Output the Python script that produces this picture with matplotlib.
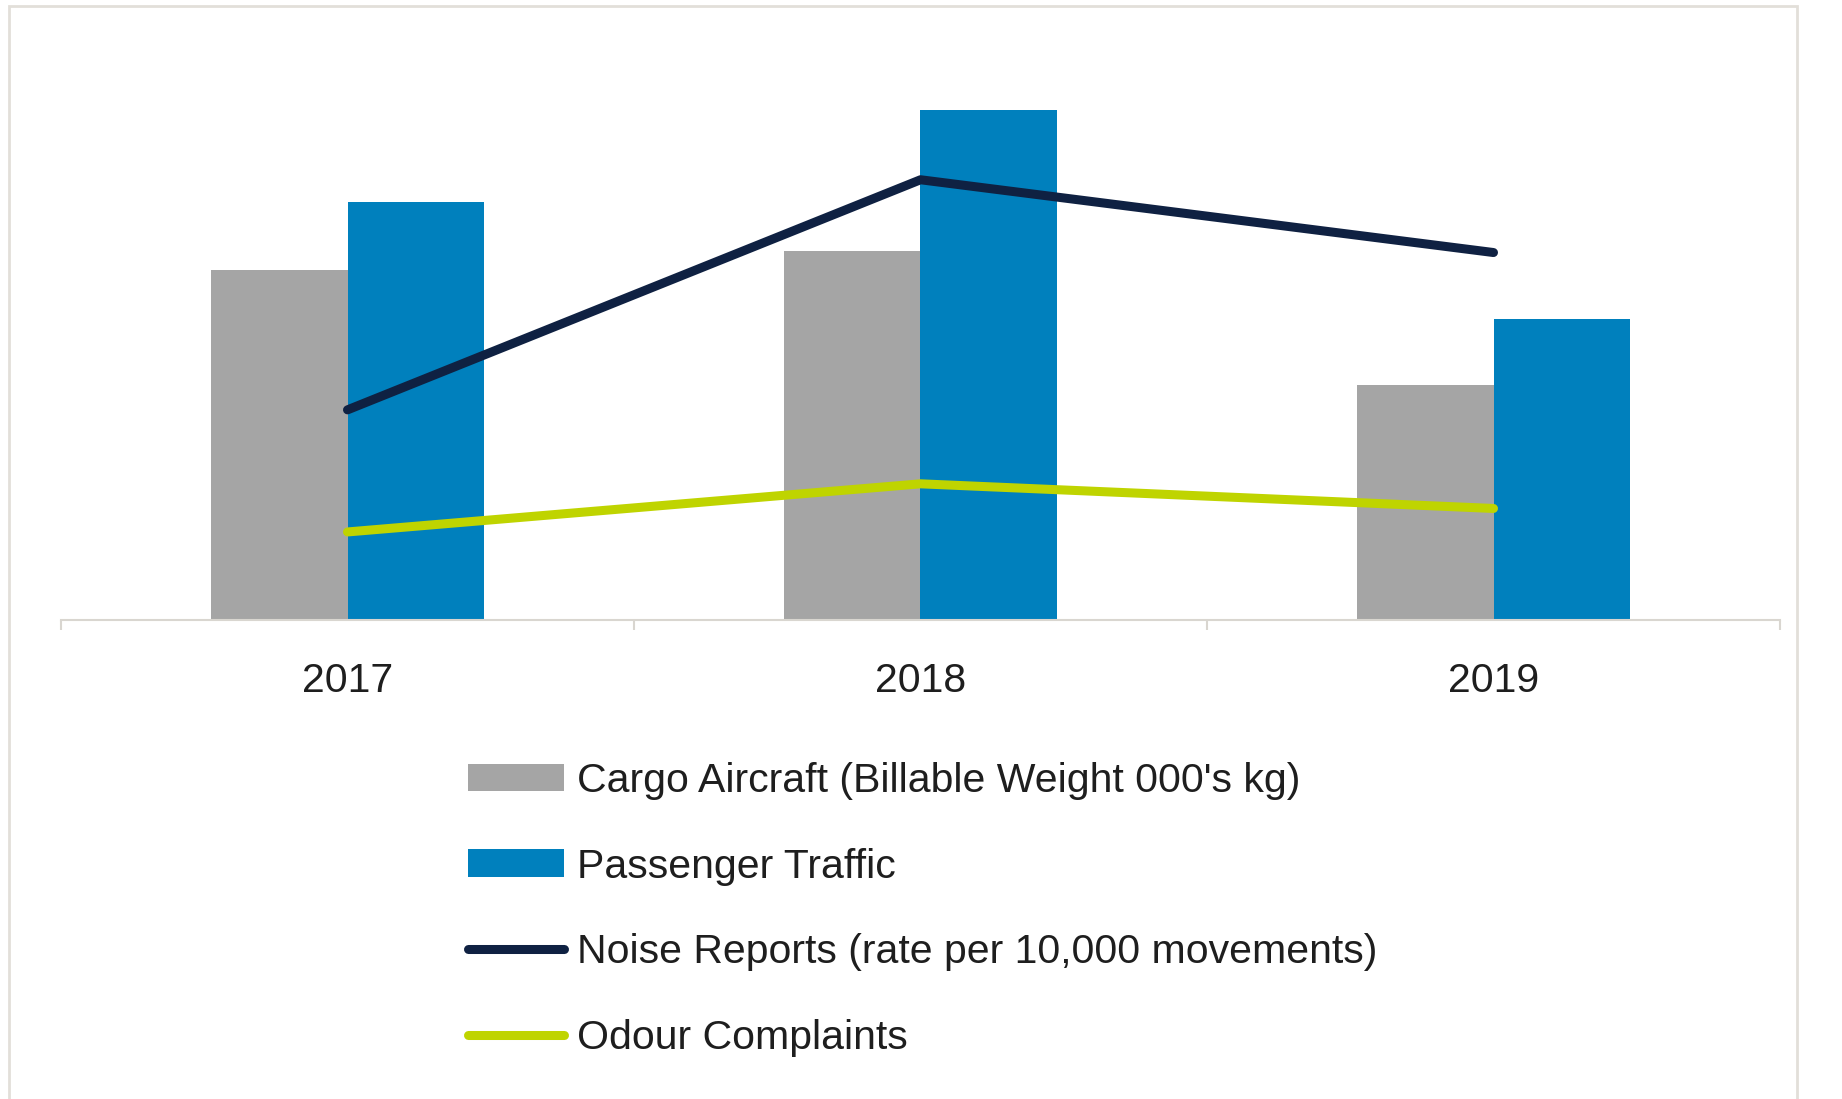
import matplotlib.pyplot as plt
import matplotlib.patches as mpatches
from matplotlib.lines import Line2D
import numpy as np

plt.rcParams['font.family'] = ['Liberation Sans', 'DejaVu Sans']

years = ['2017', '2018', '2019']
# no value axis on the chart, so these are relative heights
cargo = [298, 314, 200]
passenger = [356, 434, 256]
noise = [179, 375, 313]
odour = [75, 116, 95]

labels = ["Cargo Aircraft (Billable Weight 000's kg)", "Passenger Traffic",
          "Noise Reports (rate per 10,000 movements)", "Odour Complaints"]

c_cargo = '#a5a5a5'
c_pass = '#0080bd'
c_noise = '#0f2142'
c_odour = '#bfd400'
txt = '#1e1e1e'

fig = plt.figure(figsize=(18.42, 10.99), dpi=100)
ax = fig.add_axes([61/1842, 1 - 620/1099, 1719/1842, 587/1099])

x = np.arange(len(years))
w = 0.2377
ax.bar(x - w/2, cargo, w, color=c_cargo, linewidth=0)
ax.bar(x + w/2, passenger, w, color=c_pass, linewidth=0)
ax.plot(x, noise, color=c_noise, lw=6.5, solid_capstyle='round')
ax.plot(x, odour, color=c_odour, lw=6.5, solid_capstyle='round')

ax.set_xlim(-0.5, 2.5)
ax.set_ylim(0, 500)
ax.set_yticks([])
for s in ['top', 'right', 'left']:
    ax.spines[s].set_visible(False)
ax.spines['bottom'].set_color('#d9d6d0')
ax.spines['bottom'].set_linewidth(1.5)

ax.set_xticks([-0.5, 0.5, 1.5, 2.5])
ax.set_xticklabels([])
ax.tick_params(axis='x', which='major', length=7, width=1.5, color='#d9d6d0')
ax.set_xticks(x, minor=True)
ax.set_xticklabels(years, minor=True)
ax.tick_params(axis='x', which='minor', length=0, pad=30, labelsize=29.5, labelcolor=txt)

handles = [mpatches.Patch(color=c_cargo, linewidth=0),
           mpatches.Patch(color=c_pass, linewidth=0),
           Line2D([], [], color=c_noise, lw=6.5, solid_capstyle='round'),
           Line2D([], [], color=c_odour, lw=6.5, solid_capstyle='round')]
leg = fig.legend(handles, labels, loc='upper left', bbox_to_anchor=(468/1842, 1 - 762/1099),
                 frameon=False, fontsize=29.5, handlelength=2.35, handleheight=0.65,
                 handletextpad=0.3, labelspacing=1.16, borderpad=0, borderaxespad=0)
for t in leg.get_texts():
    t.set_color(txt)

# light outer frame of the chart area
fig.add_artist(mpatches.Rectangle((9/1842, -0.05), (1797-9)/1842, 1 - 6/1099 + 0.05,
                                  transform=fig.transFigure, fill=False,
                                  edgecolor='#e2dfd9', linewidth=2))

fig.savefig('out.png', dpi=100)
